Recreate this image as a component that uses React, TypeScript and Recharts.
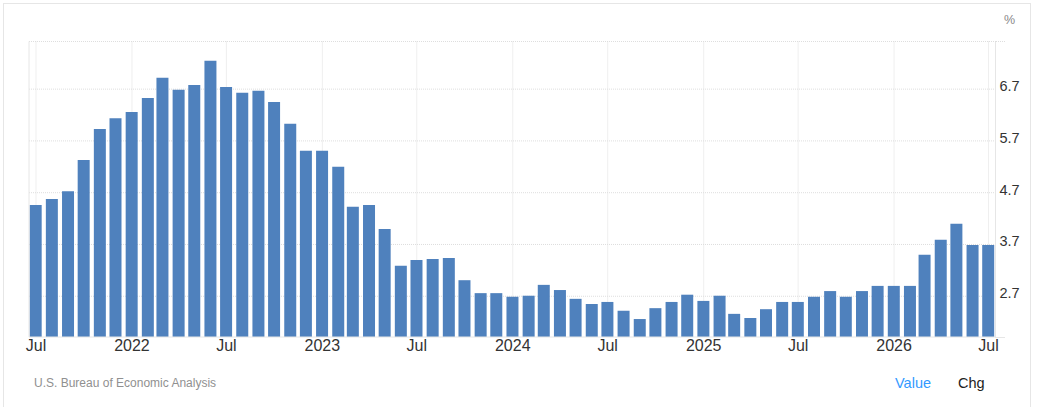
import { Bar, BarChart, CartesianGrid, ReferenceLine, XAxis, YAxis } from 'recharts'

const WIDTH = 1039
const HEIGHT = 407
const BLUE = '#4f81bd'
const GRID = '#e6e6e6'
const DOTS = '#dedede'

// first of each month, Jul 2021 .. Jul 2026
const START_YEAR = 2021
const START_MONTH = 6
const values = [
  4.46, 4.58, 4.73, 5.33, 5.93, 6.14, 6.26, 6.53, 6.92, 6.69, 6.78, 7.25,
  6.74, 6.63, 6.67, 6.45, 6.03, 5.51, 5.51, 5.2, 4.43, 4.46, 4.0, 3.29,
  3.4, 3.42, 3.44, 3.01, 2.76, 2.76, 2.69, 2.71, 2.92, 2.82, 2.65, 2.55,
  2.59, 2.42, 2.26, 2.47, 2.59, 2.73, 2.61, 2.71, 2.36, 2.28, 2.45, 2.59,
  2.59, 2.69, 2.8, 2.69, 2.8, 2.9, 2.9, 2.9, 3.5, 3.79, 4.1, 3.69, 3.69,
]

const yTicks = [2.7, 3.7, 4.7, 5.7, 6.7]
const yDomain = [1.913, 7.62]

const xTickLabels = ['Jul', '2022', 'Jul', '2023', 'Jul', '2024', 'Jul', '2025', 'Jul', '2026', 'Jul']
const xTicks = xTickLabels.map((_, i) => Date.UTC(START_YEAR, START_MONTH + i * 6, 1))
const xDomain = [xTicks[0] - 13.4 * 864e5, xTicks[10] + 13.4 * 864e5]

const data = values.map((v, i) => ({
  date: Date.UTC(START_YEAR, START_MONTH + i, 1),
  value: v,
}))

const labelFor = (t: number) => xTickLabels[xTicks.indexOf(t)] ?? ''

const font = 'Arial, "Liberation Sans", sans-serif'

function RightTick({ x, y, payload }: any) {
  return (
    <text x={x} y={y} dy={2} textAnchor="start" fontSize={14.5} fontFamily={font} fill="#333333">
      {payload.value.toFixed(1)}
    </text>
  )
}

export default function App() {
  return (
    <div style={{ position: 'fixed', left: 0, top: 0, width: WIDTH, height: HEIGHT, background: '#fff', overflow: 'hidden', fontFamily: font }}>
      {/* card frame, cut off by the bottom of the picture */}
      <div style={{ position: 'absolute', left: 3, top: 3, width: 1026, height: 420, border: '1px solid #e6e6e6' }} />

      <BarChart
        width={WIDTH}
        height={HEIGHT}
        data={data}
        margin={{ top: 41.5, right: 0, bottom: 40, left: 29 }}
        barSize={12}
        style={{ position: 'absolute', left: 0, top: 0 }}
      >
        <CartesianGrid
          stroke={DOTS}
          strokeDasharray="1 1"
          horizontalValues={[...yTicks, yDomain[1]]}
          verticalValues={xTicks}
        />
        <XAxis
          dataKey="date"
          type="number"
          scale="linear"
          domain={xDomain}
          ticks={xTicks}
          interval={0}
          tickFormatter={labelFor}
          tickLine={false}
          axisLine={{ stroke: GRID }}
          tick={{ fontSize: 16, fill: '#333333', fontFamily: font }}
          tickMargin={-3}
          height={30}
        />
        <YAxis
          orientation="right"
          type="number"
          domain={yDomain}
          ticks={yTicks}
          interval={0}
          allowDataOverflow
          tickLine={false}
          axisLine={{ stroke: GRID }}
          tick={<RightTick />}
          tickMargin={-2}
          width={43.5}
        />
        <ReferenceLine x={xDomain[0]} stroke={GRID} />
        <Bar dataKey="value" fill={BLUE} isAnimationActive={false} />
      </BarChart>

      {/* axis baseline and top grid line run a little past the right axis */}
      <div style={{ position: 'absolute', left: 995, top: 337, width: 10, height: 1, background: GRID }} />
      <div style={{ position: 'absolute', left: 995, top: 41, width: 10, height: 0, borderTop: `1px dotted ${DOTS}` }} />

      <div style={{ position: 'absolute', left: 1004, top: 13, fontSize: 12.5, color: '#888888' }}>%</div>
      <div style={{ position: 'absolute', left: 34, top: 376, fontSize: 12, color: '#909090' }}>U.S. Bureau of Economic Analysis</div>
      <div style={{ position: 'absolute', left: 895, top: 375, fontSize: 14.5, color: '#3399ff' }}>Value</div>
      <div style={{ position: 'absolute', left: 958, top: 375, fontSize: 14.5, color: '#222222' }}>Chg</div>
    </div>
  )
}
